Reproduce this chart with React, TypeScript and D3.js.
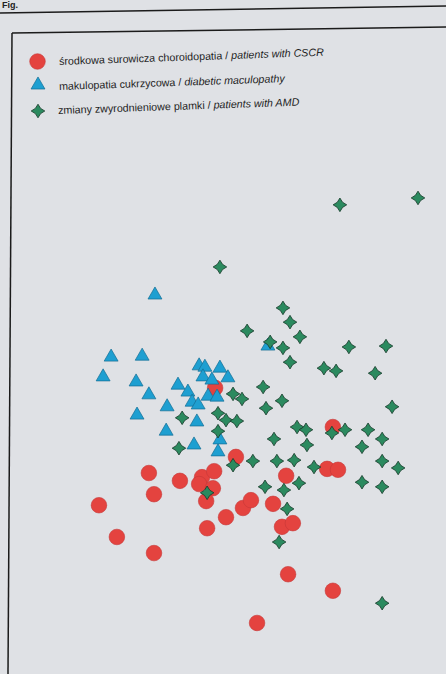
import React from "react";
import * as d3 from "d3";

const W = 446;
const H = 674;

// Legend labels (Polish / English)
const legendPl = [
  "środkowa surowicza choroidopatia / ",
  "makulopatia cukrzycowa / ",
  "zmiany zwyrodnieniowe plamki / ",
];
const legendEn = ["patients with CSCR", "diabetic maculopathy", "patients with AMD"];

// Series: CSCR (red circles)
const cscrX = [18.4, 20.0, 2.8, 8.4, 20.0, 28.1, 35.0, 38.8, 34.1, 38.4, 36.3, 45.6, 36.6, 42.5, 47.8, 50.3, 57.2, 61.3, 60.0, 63.4, 61.9, 75.9, 52.2, 74.1, 77.5, 75.9, 39.1];
const cscrY = [36.3, 31.7, 29.3, 22.4, 18.9, 34.6, 35.4, 36.7, 33.9, 33.0, 30.2, 39.8, 24.3, 26.7, 28.7, 30.4, 29.6, 35.7, 24.6, 25.4, 14.3, 10.7, 3.7, 37.2, 37.0, 46.3, 54.8];

// Series: diabetic maculopathy (blue triangles)
const dmX = [20.3, 6.6, 16.3, 4.1, 14.4, 18.4, 14.7, 24.1, 27.5, 30.6, 34.1, 35.9, 35.3, 40.6, 43.1, 38.1, 36.9, 39.7, 31.9, 33.4, 23.8, 32.5, 40.0, 40.6, 55.6, 33.8];
const dmY = [75.0, 61.5, 61.7, 57.2, 56.1, 53.3, 48.9, 50.7, 55.4, 53.9, 59.6, 59.3, 57.2, 59.1, 57.0, 56.5, 53.0, 52.8, 51.7, 47.4, 45.4, 42.4, 40.9, 43.5, 63.9, 51.1];

// Series: AMD (green stars)
const amdX = [78.1, 102.5, 40.6, 60.3, 62.5, 49.1, 65.6, 56.3, 60.3, 62.5, 80.9, 92.5, 73.1, 76.9, 89.1, 54.1, 44.7, 47.5, 60.0, 55.0, 94.4, 40.0, 42.5, 45.9, 28.8, 40.0, 64.7, 67.5, 57.5, 67.8, 75.6, 79.7, 86.9, 91.3, 85.0, 27.8, 50.9, 58.4, 63.8, 44.7, 70.0, 91.3, 96.3, 85.0, 91.3, 54.7, 60.6, 65.3, 36.6, 61.6, 59.1, 91.3];
const amdY = [94.6, 96.1, 81.1, 72.2, 69.1, 67.2, 65.9, 64.8, 63.5, 60.4, 63.7, 63.9, 59.1, 58.5, 58.0, 55.0, 53.5, 52.4, 52.0, 50.4, 50.7, 49.3, 47.8, 47.6, 48.3, 45.4, 46.3, 45.7, 43.7, 42.4, 45.0, 45.7, 45.7, 43.7, 42.0, 41.7, 38.9, 38.9, 39.1, 38.0, 37.6, 38.9, 37.4, 34.3, 33.3, 33.3, 32.6, 34.1, 32.0, 28.5, 21.3, 8.0];

const RED = "#e4433f";
const RED_EDGE = "#c63838";
const BLUE = "#1e9fd1";
const BLUE_EDGE = "#136d93";
const GREEN = "#2b8a5f";
const GREEN_EDGE = "#173a2a";
const BG = "#dfe1e5";

const x = d3.scaleLinear().domain([0, 100]).range([90, 410]);
const y = d3.scaleLinear().domain([0, 100]).range([640, 180]);

const triPath = d3.symbol().type(d3.symbolTriangle).size(84)() as string;

function starPath(rOuter: number, rInner: number): string {
  const pts: [number, number][] = d3.range(8).map((i) => {
    const a = (i * Math.PI) / 4 - Math.PI / 2;
    const r = i % 2 === 0 ? rOuter : rInner;
    return [Math.cos(a) * r, Math.sin(a) * r];
  });
  return (d3.line().curve(d3.curveLinearClosed)(pts) as string);
}
const star = starPath(6.8, 3.7);

function Circle({ cx, cy }: { cx: number; cy: number }) {
  return <circle cx={cx} cy={cy} r={7.8} fill={RED} stroke={RED_EDGE} strokeWidth={0.6} />;
}
function Tri({ cx, cy }: { cx: number; cy: number }) {
  return <path d={triPath} transform={`translate(${cx},${cy})`} fill={BLUE} stroke={BLUE_EDGE} strokeWidth={0.7} />;
}
function Star({ cx, cy }: { cx: number; cy: number }) {
  return (
    <path
      d={star}
      transform={`translate(${cx},${cy})`}
      fill={GREEN}
      stroke={GREEN_EDGE}
      strokeWidth={0.8}
      strokeLinejoin="miter"
    />
  );
}

export default function App() {
  const legendRows = [
    { mx: 37.5, my: 61.5, tx: 59, ty: 61, Marker: Circle },
    { mx: 38, my: 85, tx: 59, ty: 86, Marker: Tri },
    { mx: 38, my: 111, tx: 58, ty: 110, Marker: Star },
  ];
  return (
    <svg
      width={W}
      height={H}
      viewBox={`0 0 ${W} ${H}`}
      style={{ position: "absolute", left: 0, top: 0, display: "block" }}
      fontFamily="'Liberation Sans', Arial, sans-serif"
    >
      <rect x={0} y={0} width={W} height={H} fill={BG} />
      {/* figure header at the top */}
      <text x={2} y={8} fontSize={9} fontWeight="bold" fill="#222">Fig.</text>
      <line x1={0} y1={13} x2={W} y2={6} stroke="#1b1b1b" strokeWidth={1.6} />
      {/* legend/plot frame */}
      <line x1={12} y1={33} x2={W} y2={27} stroke="#1b1b1b" strokeWidth={1.5} />
      <line x1={12} y1={33} x2={8} y2={H} stroke="#1b1b1b" strokeWidth={1.5} />

      {/* legend */}
      {legendRows.map((r, i) => (
        <g key={i}>
          <r.Marker cx={r.mx} cy={r.my} />
          <text
            x={r.tx}
            y={r.ty + 4}
            fontSize={10.7}
            fill="#1e1e1e"
            transform={`rotate(-2 ${r.tx} ${r.ty})`}
          >
            {legendPl[i]}
            <tspan fontStyle="italic">{legendEn[i]}</tspan>
          </text>
        </g>
      ))}

      {/* data */}
      <g>
        {cscrX.map((v, i) => (
          <Circle key={"c" + i} cx={x(v)} cy={y(cscrY[i])} />
        ))}
      </g>
      <g>
        {dmX.map((v, i) => (
          <Tri key={"t" + i} cx={x(v)} cy={y(dmY[i])} />
        ))}
      </g>
      <g>
        {amdX.map((v, i) => (
          <Star key={"s" + i} cx={x(v)} cy={y(amdY[i])} />
        ))}
      </g>
    </svg>
  );
}
